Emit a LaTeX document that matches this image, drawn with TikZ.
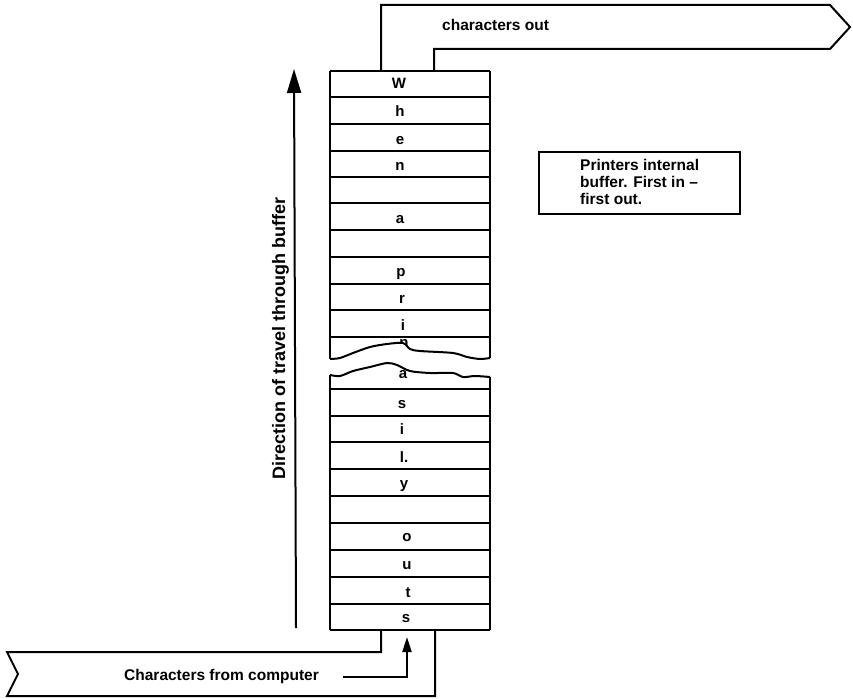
\documentclass[tikz,border=0pt]{standalone}
\usepackage{fontspec}
\setmainfont{Liberation Sans}
\usetikzlibrary{arrows.meta}
\begin{document}
\begin{tikzpicture}[x=1pt,y=-1pt,
  ln/.style={line width=2pt, line join=miter},
  lbl/.style={font=\fontsize{15.5}{17}\selectfont\bfseries, inner sep=0pt, anchor=base west},
  ch/.style={font=\fontsize{15}{17}\selectfont\bfseries, inner sep=0pt, anchor=base},
]
\useasboundingbox (0,0) rectangle (853,698);

% upper part of buffer
\foreach \yy in {71,97,124,151,177,203,230,257,284,310,337}
  \draw[ln] (330,\yy) -- (490,\yy);
\draw[ln] (330,71) -- (330,359);
\draw[ln] (490,71) -- (490,358);

% lower part of buffer
\foreach \yy in {389,416,442,469,496,523,550,577,604,630}
  \draw[ln] (330,\yy) -- (490,\yy);
\draw[ln] (330,375) -- (330,630);
\draw[ln] (490,377) -- (490,630);

% letters
\node[ch] (c1) at (399,89) {W};
\node[ch] (c2) at (400,117) {h};
\node[ch] (c3) at (400,144) {e};
\node[ch] (c4) at (400,170) {n};
\node[ch] (c5) at (400,223) {a};
\node[ch] (c6) at (401,276) {p};
\node[ch] (c7) at (402,303) {r};
\node[ch] (c8) at (403,330) {i};
\node[ch] (c9) at (404,347) {n};
\node[ch] (c10) at (403,378) {a};
\node[ch] (c11) at (402,408) {s};
\node[ch] (c12) at (402,434) {i};
\node[ch] (c13) at (404,462) {l.};
\node[ch] (c14) at (404,488) {y};
\node[ch] (c15) at (407,541) {o};
\node[ch] (c16) at (407,569) {u};
\node[ch] (c17) at (408,597) {t};
\node[ch] (c18) at (406,622) {s};

% break
\fill[white] plot[smooth] coordinates {(329,359) (340,358) (353,353) (370,347) (387,344) (403,343) (410,349) (420,351) (453,353) (467,357) (480,359) (491,358)}
  -- plot[smooth] coordinates {(491,377) (475,376) (463,377) (453,373) (430,373) (410,371) (397,365) (387,363) (370,367) (353,371) (340,376) (329,375)} -- cycle;
\draw[ln] plot[smooth] coordinates {(330,359) (340,358) (353,353) (370,347) (387,344) (403,343) (410,349) (420,351) (453,353) (467,357) (480,359) (490,358)};
\draw[ln] plot[smooth] coordinates {(330,375) (340,376) (353,371) (370,367) (387,363) (397,365) (410,371) (430,373) (453,373) (463,377) (475,376) (490,377)};

% out arrow
\draw[ln] (381,71) -- (381,5) -- (830,5) -- (850,27) -- (830,49) -- (434,49) -- (434,71);
\node[lbl] (outlbl) at (442,31) {characters out};

% in arrow
\draw[ln] (381,630) -- (381,652) -- (7,652) -- (18,674) -- (7,696) -- (435,696) -- (435,630);
\node[lbl] (inlbl) at (124,680) {Characters from computer};
\coordinate (inA) at (343,677);
\coordinate (inB) at (407,677);
\coordinate (inC) at (407,637);
\draw[line width=2pt, -{Triangle[length=15pt,width=9pt]}] (inA) -- (inB) -- (inC);

% direction arrow
\coordinate (dirA) at (296,628);
\coordinate (dirB) at (294,69);
\draw[line width=2pt, -{Triangle[length=24pt,width=14pt]}] (dirA) -- (dirB);
\node[font=\fontsize{18}{20}\selectfont\bfseries, inner sep=0pt, rotate=90, anchor=base west] (dir) at (285,480) {Direction of travel through buffer};

% note box
\node[draw, line width=2pt, minimum width=201pt, minimum height=62pt, anchor=north west, inner sep=0pt] (note) at (538,151) {};
\node[lbl] (n1) at (580,170) {Printers internal};
\node[lbl] (n2) at (580,187) {buffer. First in –};
\node[lbl] (n3) at (580,204) {first out.};
\end{tikzpicture}
\end{document}
